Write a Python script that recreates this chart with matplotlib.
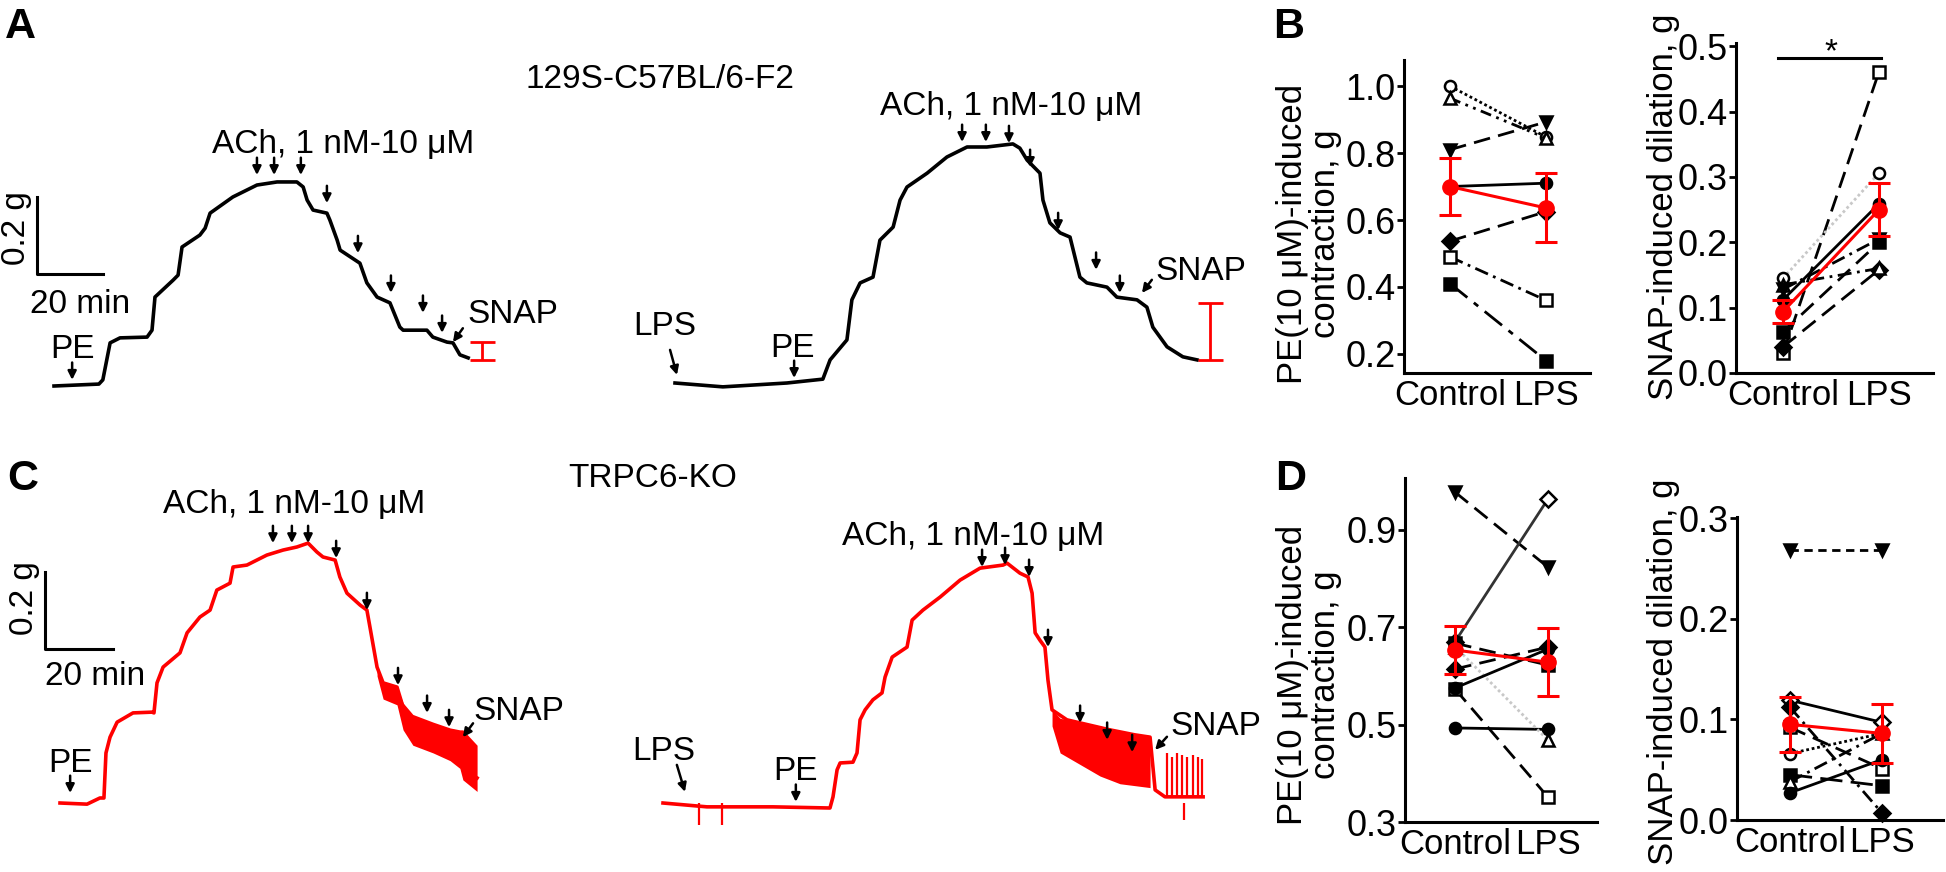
import matplotlib.pyplot as plt

plt.rcParams['font.family'] = ['Liberation Sans', 'DejaVu Sans']

# ---------------- trace data (time in min, tension in g above baseline) ----------------
# A, 129S-C57BL/6-F2 control
a_ctl_t = [0, 13.6, 14.8, 17.0, 20.0, 28.2, 29.7, 30.6, 36.1, 37.6, 38.8, 44.2, 45.8, 47.3, 54.2,
           61.5, 67.6, 73.6, 75.5, 76.7, 78.5, 82.7, 83.6, 85.8, 86.7, 92.7, 94.8, 97.9, 101.8,
           104.8, 105.8, 113.0, 114.8, 119.1, 120.9, 123.0, 125.5]
a_ctl_g = [0, 0.005, 0.016, 0.112, 0.125, 0.127, 0.145, 0.231, 0.275, 0.288, 0.361, 0.392, 0.410,
           0.449, 0.491, 0.522, 0.530, 0.530, 0.517, 0.483, 0.457, 0.449, 0.431, 0.379, 0.353,
           0.319, 0.268, 0.231, 0.216, 0.153, 0.145, 0.145, 0.127, 0.114, 0.112, 0.081, 0.073]
# A, 129S-C57BL/6-F2 LPS
a_lps_t = [0, 14.5, 33.9, 44.8, 47.0, 52.1, 53.6, 56.1, 60.0, 62.1, 66.1, 68.2, 70.3, 76.4, 82.4,
           88.5, 94.5, 102.4, 104.5, 106.7, 110.6, 111.5, 113.6, 116.7, 119.7, 122.7, 124.8, 130.9,
           133.9, 140.0, 143.0, 144.8, 149.1, 153.9, 158.2]
a_lps_g = [0, -0.01, 0, 0.01, 0.06, 0.112, 0.216, 0.26, 0.275, 0.371, 0.405, 0.475, 0.509, 0.545,
           0.587, 0.613, 0.613, 0.621, 0.61, 0.579, 0.545, 0.475, 0.416, 0.390, 0.379, 0.275, 0.260,
           0.249, 0.223, 0.216, 0.197, 0.145, 0.094, 0.068, 0.060]
# C, TRPC6-KO control
c_ctl_t = [0, 8.0, 11.8, 13.0, 13.6, 14.8, 16.9, 21.6, 27.2, 27.8, 28.7, 30.5, 35.5, 37.6, 41.4,
           44.4, 46.4, 50.3, 51.2, 55.3, 61.2, 66.0, 70.1, 73.4, 76.0, 77.8, 81.4, 82.8, 84.9, 88.8,
           90.8, 91.7, 93.8, 95.6, 99.7, 101.5, 104.4, 110.4, 118.3, 119.2, 123.4]
c_ctl_g = [0, -0.003, 0.013, 0.013, 0.130, 0.171, 0.210, 0.234, 0.236, 0.234, 0.312, 0.353, 0.390,
           0.442, 0.483, 0.501, 0.553, 0.571, 0.613, 0.618, 0.644, 0.657, 0.665, 0.675, 0.652,
           0.639, 0.631, 0.587, 0.545, 0.514, 0.501, 0.457, 0.353, 0.312, 0.301, 0.249, 0.216,
           0.197, 0.182, 0.086, 0.065]
c_ctl_band_t = [93.8, 95.6, 99.7, 101.5, 104.4, 110.4, 115.4, 118.3, 119.2, 123.4]
c_ctl_band_hi = [0.353, 0.312, 0.301, 0.26, 0.23, 0.21, 0.195, 0.19, 0.19, 0.15]
c_ctl_band_lo = [0.33, 0.27, 0.255, 0.19, 0.15, 0.13, 0.11, 0.09, 0.06, 0.03]
# C, TRPC6-KO LPS
c_lps_t = [0, 13.0, 32.5, 49.4, 50.3, 51.5, 52.4, 56.2, 57.4, 58.3, 59.8, 62.1, 64.8, 65.7, 67.8,
           72.2, 73.7, 76.9, 82.0, 87.9, 93.8, 100.6, 101.8, 105.6, 108.0, 109.2, 110.1, 111.5,
           113.0, 113.9, 115.1, 119.5, 123.4, 132.2, 139.6, 144.1, 145.6, 148.5, 159.8]
c_lps_g = [0, -0.01, -0.01, -0.013, 0.016, 0.086, 0.104, 0.106, 0.130, 0.216, 0.242, 0.268, 0.286,
           0.327, 0.379, 0.405, 0.475, 0.501, 0.535, 0.579, 0.610, 0.618, 0.623, 0.597, 0.587,
           0.545, 0.442, 0.423, 0.405, 0.319, 0.242, 0.216, 0.208, 0.190, 0.177, 0.171, 0.034,
           0.016, 0.016]
c_lps_band_t = [115.1, 117.5, 123.4, 129.3, 135.2, 144.1]
c_lps_band_hi = [0.242, 0.22, 0.21, 0.20, 0.185, 0.175]
c_lps_band_lo = [0.2, 0.13, 0.10, 0.07, 0.05, 0.04]
c_lps_spike_t = [149.1, 150.6, 152.1, 153.6, 155.0, 156.8, 158.3, 159.5]
c_lps_spike_g = [0.13, 0.12, 0.13, 0.125, 0.12, 0.125, 0.12, 0.115]
c_lps_dip_t = [10.7, 17.5, 154.0]
c_lps_dip_g = [-0.057, -0.057, -0.044]

# arrow tips (min, g) for ACh doses
a_ctl_arrow_t = [61.5, 66.7, 74.8, 82.7, 92.1, 102.1, 111.8, 117.6]
a_ctl_arrow_g = [0.548, 0.548, 0.548, 0.475, 0.345, 0.242, 0.19, 0.138]
a_lps_arrow_t = [87.0, 94.2, 101.2, 107.6, 116.1, 127.6, 134.8]
a_lps_arrow_g = [0.626, 0.626, 0.623, 0.561, 0.397, 0.294, 0.234]
c_ctl_arrow_t = [63.0, 68.6, 73.4, 81.7, 90.8, 100.0, 108.6, 115.1]
c_ctl_arrow_g = [0.675, 0.675, 0.675, 0.636, 0.501, 0.306, 0.234, 0.197]
c_lps_arrow_t = [94.4, 101.2, 108.3, 113.9, 123.4, 131.4, 138.8]
c_lps_arrow_g = [0.613, 0.618, 0.587, 0.405, 0.208, 0.164, 0.132]

# SNAP-induced dilation bars in A (t, from g, to g)
a_ctl_snap = [129.7, 0.114, 0.068]
a_lps_snap = [162.1, 0.208, 0.060]

# ---------------- paired data ----------------
groups = ['Control', 'LPS']

b_pe_ctl = [1.0, 0.964, 0.81, 0.70, 0.537, 0.49, 0.41]
b_pe_lps = [0.848, 0.845, 0.893, 0.71, 0.625, 0.36, 0.18]
b_pe_mean = [0.70, 0.636]
b_pe_sem = [0.086, 0.103]

b_snap_ctl = [0.030, 0.145, 0.112, 0.063, 0.040, 0.135, 0.128]
b_snap_lps = [0.461, 0.306, 0.259, 0.20, 0.158, 0.16, 0.205]
b_snap_mean = [0.094, 0.25]
b_snap_sem = [0.018, 0.04]

d_pe_ctl = [0.977, 0.67, 0.667, 0.614, 0.573, 0.493, 0.66, 0.575]
d_pe_lps = [0.823, 0.963, 0.622, 0.659, 0.351, 0.49, 0.468, 0.655]
d_pe_mean = [0.653, 0.628]
d_pe_sem = [0.05, 0.07]

d_snap_ctl = [0.268, 0.119, 0.112, 0.092, 0.066, 0.045, 0.038, 0.027]
d_snap_lps = [0.268, 0.097, 0.007, 0.051, 0.086, 0.034, 0.086, 0.06]
d_snap_mean = [0.095, 0.086]
d_snap_sem = [0.027, 0.029]

# ---------------- styles ----------------
b_pe_mk = ['o', '^', 'v', 'o', 'D', 's', 's']
b_pe_fill = [False, False, True, True, True, False, True]
b_pe_ls = [(0, (1, 1)), (0, (4, 2, 1, 2, 1, 2)), (0, (6, 3)), '-', (0, (6, 3)), (0, (5, 2, 1, 2)),
           (0, (8, 3, 2, 3))]
b_pe_col = ['k'] * 7

b_snap_mk = ['s', 'o', 'o', 's', 'D', '^', 'v']
b_snap_fill = [False, False, True, True, True, False, True]
b_snap_ls = [(0, (6, 3)), (0, (1, 1)), '-', (0, (6, 3)), (0, (6, 3)), (0, (5, 2, 1, 2)), (0, (5, 2, 1, 2))]
b_snap_col = ['k', '#c8c8c8', 'k', 'k', 'k', 'k', 'k']

d_pe_mk = ['v', 'D', 's', 'D', 's', 'o', '^', 'o']
d_pe_fill = [True, False, True, True, False, True, False, True]
d_pe_ls = [(0, (6, 3)), '-', (0, (6, 3)), (0, (6, 3)), (0, (6, 3)), '-', (0, (1, 1)), '-']
d_pe_col = ['k', '#333333', 'k', 'k', 'k', 'k', '#c8c8c8', 'k']

d_snap_mk = ['v', 'D', 'D', 's', 'o', 's', '^', 'o']
d_snap_fill = [True, False, True, False, False, True, False, True]
d_snap_ls = [(0, (3, 2)), '-', (0, (5, 2, 1, 2)), (0, (6, 3)), (0, (1, 1)), (0, (8, 3)),
             (0, (5, 2, 1, 2)), '-']
d_snap_col = ['k'] * 8

W, H = 1946, 872
fig = plt.figure(figsize=(W / 100, H / 100), dpi=100)
FS = 24      # trace annotations
FS_LAB = 25  # axis labels of the paired panels
FS_TICK = 26


def box(x0, y0, x1, y1):
    return [x0 / W, 1 - y1 / H, (x1 - x0) / W, (y1 - y0) / H]


def txt(x, y, s, **kw):
    fig.text(x / W, 1 - y / H, s, fontsize=kw.pop('fontsize', FS), **kw)


def draw_arrows(ax, ts, gs, off, color='k'):
    for t, g in zip(ts, gs):
        ax.annotate('', xy=(t + off[0], g + off[1]), xytext=(t + off[0], g + off[1] + 0.045),
                    arrowprops=dict(arrowstyle='-|>,head_length=0.5,head_width=0.25',
                                    color=color, lw=1.8, shrinkA=0, shrinkB=0))


def slant_arrow(ax, t, g, dt, dg, off):
    ax.annotate('', xy=(t + off[0], g + off[1]), xytext=(t + off[0] + dt, g + off[1] + dg),
                arrowprops=dict(arrowstyle='-|>,head_length=0.5,head_width=0.25',
                                color='k', lw=1.8, shrinkA=0, shrinkB=0))


# ---------------- A: traces ----------------
ax_a = fig.add_axes(box(0, 0, 1240, 420))
ax_a.set_xlim(0, 1240 / 3.3)
ax_a.set_ylim(0, 420 / 385)
ax_a.axis('off')
off1 = (54 / 3.3, (420 - 386) / 385)
off2 = (675 / 3.3, (420 - 383) / 385)
ax_a.plot([t + off1[0] for t in a_ctl_t], [g + off1[1] for g in a_ctl_g], color='k', lw=2.6)
ax_a.plot([t + off2[0] for t in a_lps_t], [g + off2[1] for g in a_lps_g], color='k', lw=2.6)
draw_arrows(ax_a, a_ctl_arrow_t, a_ctl_arrow_g, off1)
draw_arrows(ax_a, a_lps_arrow_t, a_lps_arrow_g, off2)
draw_arrows(ax_a, [5.5], [0.016], off1)
draw_arrows(ax_a, [36.1], [0.013], off2)
slant_arrow(ax_a, 120.9, 0.114, 3.0, 0.036, off1)
slant_arrow(ax_a, 141.5, 0.234, 3.0, 0.034, off2)
slant_arrow(ax_a, 0.6, 0.021, -2.1, 0.065, off2)
for snap, off in [(a_ctl_snap, off1), (a_lps_snap, off2)]:
    lo, hi = min(snap[1:]), max(snap[1:])
    ax_a.errorbar([snap[0] + off[0]], [(lo + hi) / 2 + off[1]], yerr=[(hi - lo) / 2],
                  fmt='none', ecolor='red', elinewidth=2, capsize=9, capthick=2)
# scale bar
sx, sy = 37 / 3.3, (420 - 274) / 385
ax_a.plot([sx, sx, sx + 20], [sy + 0.2, sy, sy], color='k', lw=2.2)

# ---------------- C: traces ----------------
ax_c = fig.add_axes(box(0, 420, 1240, 872))
ax_c.set_xlim(0, 1240 / 3.38)
ax_c.set_ylim(0, 452 / 385)
ax_c.axis('off')
off3 = (60 / 3.38, (872 - 803) / 385)
off4 = (663 / 3.38, (872 - 803) / 385)
ax_c.plot([t + off3[0] for t in c_ctl_t], [g + off3[1] for g in c_ctl_g], color='red', lw=2.6)
ax_c.fill_between([t + off3[0] for t in c_ctl_band_t], [g + off3[1] for g in c_ctl_band_lo],
                  [g + off3[1] for g in c_ctl_band_hi], color='red', lw=0)
ax_c.plot([t + off4[0] for t in c_lps_t], [g + off4[1] for g in c_lps_g], color='red', lw=2.6)
ax_c.fill_between([t + off4[0] for t in c_lps_band_t], [g + off4[1] for g in c_lps_band_lo],
                  [g + off4[1] for g in c_lps_band_hi], color='red', lw=0)
ax_c.vlines([t + off4[0] for t in c_lps_spike_t], 0.016 + off4[1],
            [g + off4[1] for g in c_lps_spike_g], color='red', lw=1.6)
ax_c.vlines([t + off4[0] for t in c_lps_dip_t], off4[1],
            [g + off4[1] for g in c_lps_dip_g], color='red', lw=1.6)
draw_arrows(ax_c, c_ctl_arrow_t, c_ctl_arrow_g, off3)
draw_arrows(ax_c, c_lps_arrow_t, c_lps_arrow_g, off4)
draw_arrows(ax_c, [3.0], [0.026], off3)
draw_arrows(ax_c, [39.3], [0.003], off4)
slant_arrow(ax_c, 119.2, 0.171, 3.0, 0.036, off3)
slant_arrow(ax_c, 145.6, 0.138, 3.5, 0.034, off4)
slant_arrow(ax_c, 6.5, 0.029, -2.4, 0.07, off4)
sx, sy = 45 / 3.38, (872 - 649) / 385
ax_c.plot([sx, sx, sx + 20], [sy + 0.2, sy, sy], color='k', lw=2.2)

# ---------------- trace labels ----------------
txt(5, 38, 'A', fontsize=31, fontweight='bold')
txt(7, 490, 'C', fontsize=31, fontweight='bold')
txt(1273, 38, 'B', fontsize=31, fontweight='bold')
txt(1275, 490, 'D', fontsize=31, fontweight='bold')
txt(660, 88, '129S-C57BL/6-F2', ha='center')
txt(653, 487, 'TRPC6-KO', ha='center')
ach = 'ACh, 1 nM-10 \u03bcM'
txt(212, 153, ach)
txt(880, 115, ach)
txt(163, 513, ach)
txt(842, 545, ach)
txt(50, 358, 'PE')
txt(770, 357, 'PE')
txt(48, 772, 'PE')
txt(773, 780, 'PE')
txt(633, 335, 'LPS')
txt(632, 760, 'LPS')
txt(467, 323, 'SNAP')
txt(1155, 280, 'SNAP')
txt(473, 720, 'SNAP')
txt(1170, 735, 'SNAP')
txt(16, 228, '0.2 g', rotation=90, ha='center', va='center')
txt(24, 598, '0.2 g', rotation=90, ha='center', va='center')
txt(30, 313, '20 min')
txt(45, 685, '20 min')


# ---------------- paired panels ----------------
def pair_panel(rect, ctl, lps, mk, fill, ls, col, mean, sem, xlim, ylim, ticks, ticklabels):
    ax = fig.add_axes(box(*rect))
    for i in range(len(ctl)):
        ax.plot([0, 1], [ctl[i], lps[i]], color=col[i], ls=ls[i], lw=2,
                marker=mk[i], ms=8, mec='k', mew=1.8,
                mfc='k' if fill[i] else 'white', clip_on=False)
    ax.errorbar([0, 1], mean, yerr=sem, color='red', lw=2.2, marker='o', ms=11,
                elinewidth=2.2, capsize=8, capthick=2.2, zorder=5, clip_on=False)
    ax.set_xlim(*xlim)
    ax.set_ylim(*ylim)
    ax.set_yticks(ticks)
    ax.set_yticklabels(ticklabels)
    ax.set_xticks([0, 1])
    ax.set_xticklabels(groups)
    ax.spines['top'].set_visible(False)
    ax.spines['right'].set_visible(False)
    for s in ('left', 'bottom'):
        ax.spines[s].set_linewidth(2.2)
    ax.tick_params(axis='y', direction='out', length=5, width=2, labelsize=FS_TICK, pad=1)
    ax.tick_params(axis='x', length=0, labelsize=FS_LAB, pad=4)
    return ax


pair_panel((1404, 60, 1590, 373), b_pe_ctl, b_pe_lps, b_pe_mk, b_pe_fill, b_pe_ls, b_pe_col,
           b_pe_mean, b_pe_sem, (-0.479, 1.458), (0.143, 1.078),
           [0.2, 0.4, 0.6, 0.8, 1.0], ['0.2', '0.4', '0.6', '0.8', '1.0'])
ax_bs = pair_panel((1736, 43, 1933, 373), b_snap_ctl, b_snap_lps, b_snap_mk, b_snap_fill, b_snap_ls,
                   b_snap_col, b_snap_mean, b_snap_sem, (-0.49, 1.5625), (0, 0.505),
                   [0, 0.1, 0.2, 0.3, 0.4, 0.5], ['0.0', '0.1', '0.2', '0.3', '0.4', '0.5'])
ax_bs.plot([-0.05, 1.02], [0.482, 0.482], color='k', lw=2.2, clip_on=False)
ax_bs.text(0.5, 0.466, '*', ha='center', va='bottom', fontsize=FS)
pair_panel((1405, 478, 1597, 822), d_pe_ctl, d_pe_lps, d_pe_mk, d_pe_fill, d_pe_ls, d_pe_col,
           d_pe_mean, d_pe_sem, (-0.538, 1.527), (0.3, 1.006),
           [0.3, 0.5, 0.7, 0.9], ['0.3', '0.5', '0.7', '0.9'])
pair_panel((1737, 517, 1943, 820), d_snap_ctl, d_snap_lps, d_snap_mk, d_snap_fill, d_snap_ls,
           d_snap_col, d_snap_mean, d_snap_sem, (-0.576, 1.663), (0, 0.301),
           [0, 0.1, 0.2, 0.3], ['0.0', '0.1', '0.2', '0.3'])

pe_label = 'PE(10 \u03bcM)-induced\ncontraction, g'
txt(1309, 234, pe_label, rotation=90, ha='center', va='center', linespacing=1.0,
    multialignment='center', fontsize=FS_LAB)
txt(1309, 675, pe_label, rotation=90, ha='center', va='center', linespacing=1.0,
    multialignment='center', fontsize=FS_LAB)
txt(1664, 207, 'SNAP-induced dilation, g', rotation=90, ha='center', va='center', fontsize=FS_LAB)
txt(1664, 672, 'SNAP-induced dilation, g', rotation=90, ha='center', va='center', fontsize=FS_LAB)

fig.savefig('out.png', dpi=100)
